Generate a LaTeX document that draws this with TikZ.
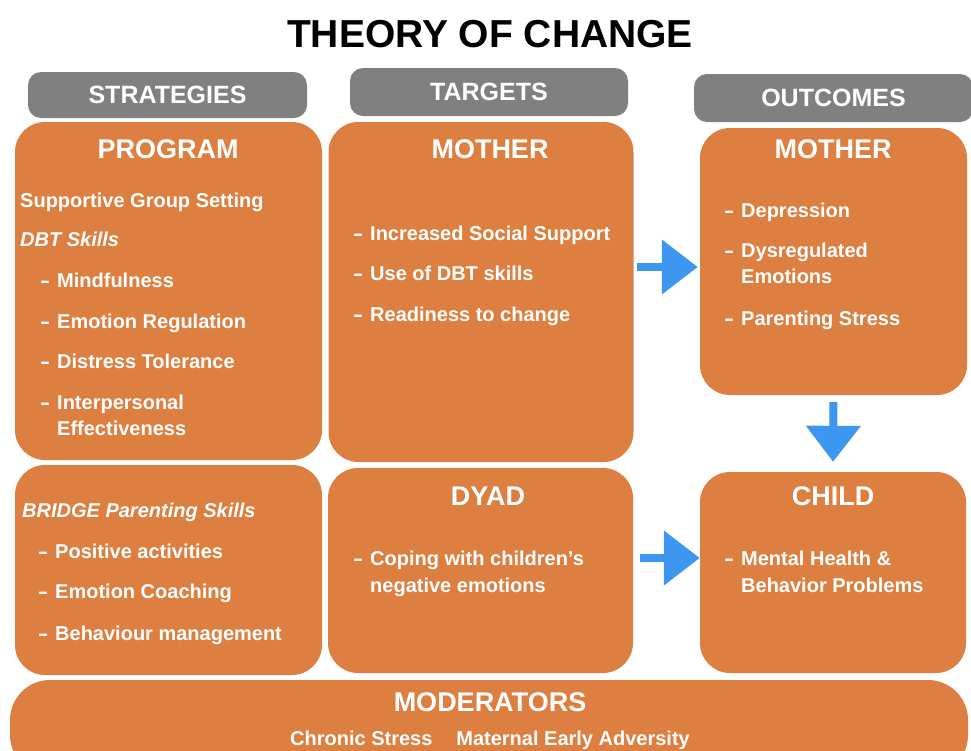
\documentclass[tikz,border=0pt]{standalone}
\usepackage{fontspec}
\setmainfont{Liberation Sans}
\usetikzlibrary{arrows.meta}
\definecolor{boxorange}{RGB}{220,127,64}
\definecolor{headgray}{RGB}{128,128,128}
\definecolor{arrowblue}{RGB}{61,150,240}
\newcommand{\itemdash}{\makebox[17pt][l]{\scalebox{1.5}[1]{-}}}

\begin{document}
\begin{tikzpicture}[x=1pt,y=-1pt]
  \tikzstyle{box}=[fill=boxorange, rounded corners=30pt, inner sep=0pt]
  \tikzstyle{header}=[fill=headgray, rounded corners=13pt, inner sep=0pt, text=white, font=\bfseries\fontsize{25}{30}\selectfont]
  \tikzstyle{boxtitle}=[text=white, anchor=base, inner sep=0pt, font=\bfseries\fontsize{27}{32}\selectfont]
  \tikzstyle{item}=[text=white, anchor=base west, inner sep=0pt, font=\bfseries\fontsize{20}{26}\selectfont]
  \tikzstyle{subhead}=[item, font=\bfseries\itshape\fontsize{20}{26}\selectfont]
  \tikzstyle{flow}=[draw=arrowblue, line width=8pt, -{Triangle[length=36pt, width=53pt]}]
  \useasboundingbox (0,0) rectangle (971,750);

  \node[font=\bfseries\fontsize{39}{44}\selectfont, anchor=base, inner sep=0pt] (title) at (490,47) {THEORY OF CHANGE};

  % column headers
  \node[header, minimum width=279pt, minimum height=46pt] (strategies) at (167.5,95) {STRATEGIES};
  \node[header, minimum width=278pt, minimum height=48pt] (targets) at (489,92) {TARGETS};
  \node[header, minimum width=279pt, minimum height=48pt] (outcomes) at (833.5,98) {OUTCOMES};

  % boxes
  \node[box, minimum width=307pt, minimum height=338pt] (program) at (168.5,291) {};
  \node[box, minimum width=305pt, minimum height=340pt] (tmother) at (481,292) {};
  \node[box, minimum width=267pt, minimum height=267pt] (omother) at (833.5,261.5) {};
  \node[box, minimum width=307pt, minimum height=210pt] (parenting) at (168.5,570) {};
  \node[box, minimum width=305pt, minimum height=205pt] (dyad) at (480.5,570.5) {};
  \node[box, minimum width=266pt, minimum height=201pt] (child) at (833,572.5) {};
  \node[box, rounded corners=40pt, minimum width=958pt, minimum height=95pt] (moderators) at (489,727.5) {};

  % program
  \node[boxtitle] (programtitle) at (168,158) {PROGRAM};
  \node[item] (group) at (20,207) {Supportive Group Setting};
  \node[subhead] (dbt) at (20,246) {DBT Skills};
  \node[item] (mindful) at (40,287) {\itemdash Mindfulness};
  \node[item] (regulation) at (40,328) {\itemdash Emotion Regulation};
  \node[item] (distress) at (40,368) {\itemdash Distress Tolerance};
  \node[item] (interpersonal) at (40,409) {\itemdash Interpersonal};
  \node[item] (effective) at (57,435) {Effectiveness};

  \node[subhead] (bridge) at (22,517) {BRIDGE Parenting Skills};
  \node[item] (positive) at (38,558) {\itemdash Positive activities};
  \node[item] (coaching) at (38,598) {\itemdash Emotion Coaching};
  \node[item] (behaviour) at (38,640) {\itemdash Behaviour management};

  % targets
  \node[boxtitle] (tmothertitle) at (490,158) {MOTHER};
  \node[item] (support) at (353,240) {\itemdash Increased Social Support};
  \node[item] (useskills) at (353,280) {\itemdash Use of DBT skills};
  \node[item] (readiness) at (353,321) {\itemdash Readiness to change};

  \node[boxtitle] (dyadtitle) at (488,505) {DYAD};
  \node[item] (coping) at (353,565) {\itemdash Coping with children’s};
  \node[item] (negative) at (370,592) {negative emotions};

  % outcomes
  \node[boxtitle] (omothertitle) at (833,158) {MOTHER};
  \node[item] (depression) at (724,217) {\itemdash Depression};
  \node[item] (dysregulated) at (724,257) {\itemdash Dysregulated};
  \node[item] (emotions) at (741,283) {Emotions};
  \node[item] (stress) at (724,325) {\itemdash Parenting Stress};

  \node[boxtitle] (childtitle) at (833,505) {CHILD};
  \node[item] (mental) at (724,565) {\itemdash Mental Health \&};
  \node[item] (problems) at (741,592) {Behavior Problems};

  % moderators
  \node[boxtitle] (modtitle) at (490,711) {MODERATORS};
  \node[item, anchor=base] (modlist) at (490,745) {Chronic Stress\hspace{24pt}Maternal Early Adversity};

  % arrows
  \coordinate (row1) at (0,267);
  \coordinate (row2) at (0,558);
  \draw[flow, shorten <=3pt, shorten >=2pt] (tmother.east |- row1) -- (omother.west |- row1);
  \draw[flow, shorten <=7pt, shorten >=10pt] (omother.south) -- (child.north);
  \draw[flow, shorten <=7pt, shorten >=0pt] (dyad.east |- row2) -- (child.west |- row2);
\end{tikzpicture}
\end{document}
